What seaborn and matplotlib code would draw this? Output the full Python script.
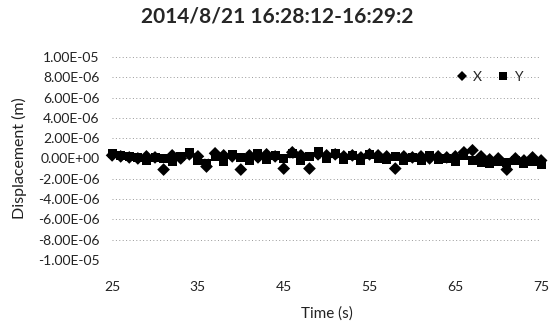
import numpy as np
import pandas as pd
import matplotlib
matplotlib.use("Agg")
import matplotlib.pyplot as plt
import seaborn as sns
from matplotlib.ticker import FuncFormatter, FixedLocator

time_s = list(range(25, 76))
x_disp = [0.3, 0.2, 0.1, 0.0, 0.2, 0.1, -1.1, 0.3, 0.0, 0.4, 0.2, -0.8, 0.5, 0.3, 0.2,
          -1.1, 0.3, 0.1, 0.4, 0.2, -1.0, 0.6, 0.3, -1.0, 0.4, 0.3, 0.4, 0.2, 0.3, 0.1,
          0.4, 0.3, 0.2, -1.0, 0.2, 0.1, 0.2, 0.0, 0.2, 0.1, 0.2, 0.6, 0.8, 0.2, -0.1,
          0.0, -1.1, 0.0, -0.2, 0.1, -0.2]
y_disp = [0.5, 0.3, 0.2, 0.1, -0.2, 0.1, 0.0, -0.3, 0.2, 0.6, -0.2, -0.5, 0.2, -0.3, 0.4,
          0.1, -0.2, 0.5, -0.1, 0.3, 0.0, 0.5, -0.2, 0.2, 0.7, 0.0, 0.5, -0.1, 0.3, -0.2,
          0.4, 0.0, -0.1, 0.2, -0.2, 0.1, -0.2, 0.3, -0.1, 0.0, -0.3, 0.3, -0.2, -0.4, -0.5,
          -0.3, -0.4, -0.2, -0.5, -0.3, -0.6]
series_names = ["X", "Y"]
y_ticks = [1e-5, 8e-6, 6e-6, 4e-6, 2e-6, 0.0, -2e-6, -4e-6, -6e-6, -8e-6, -1e-5]
x_ticks = [25, 35, 45, 55, 65, 75]
title = "2014/8/21 16:28:12-16:29:2"

df = pd.DataFrame({
    "Time": time_s * 2,
    "Disp": [v * 1e-6 for v in x_disp] + [v * 1e-6 for v in y_disp],
    "Series": [series_names[0]] * len(time_s) + [series_names[1]] * len(time_s),
})

sns.set_theme(style="white")
plt.rcParams["font.family"] = ["Lato", "DejaVu Sans"]

fig = plt.figure(figsize=(5.55, 3.29), dpi=100)
ax = fig.add_axes([0.202, 0.21, 0.773, 0.617])

sns.scatterplot(data=df, x="Time", y="Disp", hue="Series", style="Series",
                markers={"X": "D", "Y": "s"}, palette={"X": "black", "Y": "black"},
                s=42, linewidth=0, ax=ax, zorder=3, clip_on=False)

ax.set_xlim(25, 75)
ax.set_ylim(-1e-5, 1e-5)
ax.yaxis.set_major_locator(FixedLocator(y_ticks))
ax.xaxis.set_major_locator(FixedLocator(x_ticks))

def fmt(v, pos):
    return "%.2E" % v

ax.yaxis.set_major_formatter(FuncFormatter(fmt))
ax.grid(axis="y", linestyle=(0, (1, 2.5)), color="#999999", linewidth=0.7)
ax.grid(axis="x", visible=False)
for sp in ax.spines.values():
    sp.set_visible(False)
ax.tick_params(axis="both", length=0, labelsize=10, colors="#222222", pad=9)
ax.tick_params(axis="x", pad=15)

ax.set_xlabel("Time (s)", fontsize=11, color="#222222", labelpad=10)
ax.set_ylabel("Displacement (m)", fontsize=11.5, color="#222222", labelpad=8)
fig.suptitle(title, fontsize=15, fontweight="bold", y=0.98, x=0.5)

leg = ax.legend(title=None, ncol=2, frameon=False, loc="center right",
                bbox_to_anchor=(0.985, 0.9), fontsize=10, handletextpad=0.2,
                columnspacing=0.9, markerscale=0.8, handlelength=1.2)

fig.savefig("out.png", dpi=100)
